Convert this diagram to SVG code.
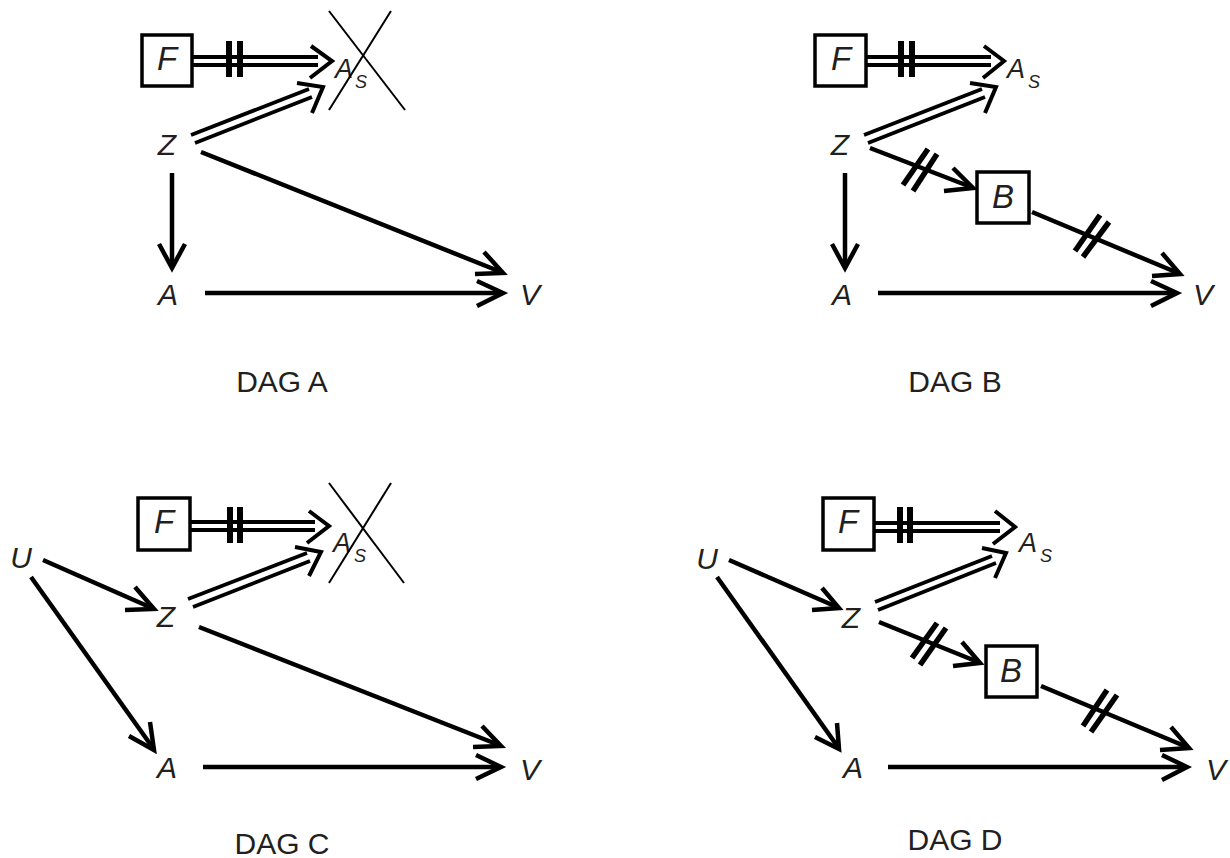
<svg xmlns="http://www.w3.org/2000/svg" width="1230" height="858" viewBox="0 0 1230 858">
<style>
.e{stroke:#000;stroke-width:4.5;fill:none;stroke-linejoin:miter;stroke-miterlimit:10}
.d{stroke:#000;stroke-width:3.8;fill:none}
.dh{stroke:#000;stroke-width:4;fill:none;stroke-linejoin:miter;stroke-miterlimit:10}
.h{stroke:#000;stroke-width:6;fill:none}
.hd{stroke:#000;stroke-width:5.5;fill:none}
.x{stroke:#000;stroke-width:2;fill:none}
.box{fill:#fff;stroke:#000;stroke-width:3.5}
.n{font-family:"Liberation Sans",Arial,sans-serif;font-style:italic;font-size:30px;fill:#231f20;text-anchor:middle}
.nb{font-family:"Liberation Sans",Arial,sans-serif;font-style:italic;font-size:33px;fill:#231f20;text-anchor:middle}
.s1{font-family:"Liberation Sans",Arial,sans-serif;font-style:italic;font-size:27px;fill:#231f20}
.s2{font-family:"Liberation Sans",Arial,sans-serif;font-style:italic;font-size:18px;fill:#231f20}
.cap{font-family:"Liberation Sans",Arial,sans-serif;font-size:30px;fill:#231f20;text-anchor:middle}
</style>
<rect width="1230" height="858" fill="#fff"/>

<!-- DAG A -->
<g id="dagA">
 <g id="dagA-connectors">
  <line class="d" x1="192" y1="57" x2="318" y2="57"/><line class="d" x1="192" y1="65" x2="318" y2="65"/>
  <polyline class="dh" points="311,46 332,61 310,78"/>
  <line class="h" x1="229" y1="41" x2="229" y2="77"/><line class="h" x1="240" y1="41" x2="240" y2="77"/>
  <line class="d" x1="191" y1="135" x2="309" y2="89"/><line class="d" x1="195" y1="143" x2="312" y2="97"/>
  <polyline class="dh" points="297,83 323,87 312,113"/>
  <line class="e" x1="172" y1="173" x2="172" y2="266"/><polyline class="e" points="159,244 172,268 185,244"/>
  <line class="e" x1="201" y1="152" x2="501" y2="272"/><polyline class="e" points="484,252 503,273 475,274"/>
  <line class="e" x1="205" y1="293" x2="501" y2="293"/><polyline class="e" points="477,281 503,293 477,306"/>
 </g>
 <g id="dagA-F"><rect class="box" x="142" y="35" width="50" height="51"/><text class="nb" x="167" y="70">F</text></g>
 <g id="dagA-As"><text class="s1" x="335" y="78">A</text><text class="s2" x="355" y="88">S</text>
  <line class="x" x1="329" y1="11" x2="405" y2="110"/><line class="x" x1="391" y1="11" x2="329" y2="110"/></g>
 <g id="dagA-Z"><text class="n" x="167" y="155">Z</text></g>
 <g id="dagA-A"><text class="n" x="168" y="305">A</text></g>
 <g id="dagA-V"><text class="n" x="530" y="305">V</text></g>
 <text class="cap" x="282" y="392">DAG A</text>
</g>

<!-- DAG B -->
<g id="dagB">
 <g id="dagB-connectors">
  <line class="d" x1="866" y1="57" x2="991" y2="57"/><line class="d" x1="866" y1="65" x2="991" y2="65"/>
  <polyline class="dh" points="984,46 1004,61 983,78"/>
  <line class="h" x1="901" y1="41" x2="901" y2="77"/><line class="h" x1="912" y1="41" x2="912" y2="77"/>
  <line class="d" x1="864" y1="135" x2="982" y2="89"/><line class="d" x1="868" y1="143" x2="985" y2="97"/>
  <polyline class="dh" points="970,83 996,87 985,113"/>
  <line class="e" x1="845" y1="173" x2="845" y2="266"/><polyline class="e" points="832,244 845,268 858,244"/>
  <line class="e" x1="878" y1="293" x2="1175" y2="293"/><polyline class="e" points="1151,281 1177,293 1151,306"/>
  <line class="e" x1="870" y1="148" x2="971" y2="187"/><polyline class="e" points="953,168 973,188 944,191"/>
  <line class="hd" x1="903" y1="185" x2="928" y2="149"/><line class="hd" x1="913" y1="191" x2="937" y2="154"/>
  <line class="e" x1="1032" y1="212" x2="1178" y2="273"/><polyline class="e" points="1162,253 1180,274 1152,276"/>
  <line class="hd" x1="1075" y1="251" x2="1100" y2="215"/><line class="hd" x1="1083" y1="257" x2="1109" y2="222"/>
 </g>
 <g id="dagB-F"><rect class="box" x="815" y="35" width="51" height="51"/><text class="nb" x="841" y="70">F</text></g>
 <g id="dagB-As"><text class="s1" x="1007" y="78">A</text><text class="s2" x="1028" y="88">S</text></g>
 <g id="dagB-Z"><text class="n" x="840" y="155">Z</text></g>
 <g id="dagB-B"><rect class="box" x="977" y="172" width="52" height="51"/><text class="nb" x="1003" y="208">B</text></g>
 <g id="dagB-A"><text class="n" x="842" y="305">A</text></g>
 <g id="dagB-V"><text class="n" x="1203" y="305">V</text></g>
 <text class="cap" x="955" y="392">DAG B</text>
</g>

<!-- DAG C -->
<g id="dagC">
 <g id="dagC-connectors">
  <line class="d" x1="191" y1="522" x2="315" y2="522"/><line class="d" x1="191" y1="530" x2="315" y2="530"/>
  <polyline class="dh" points="309,511 329,526 307,543"/>
  <line class="h" x1="230" y1="507" x2="230" y2="543"/><line class="h" x1="240" y1="507" x2="240" y2="543"/>
  <line class="d" x1="188" y1="599" x2="307" y2="553"/><line class="d" x1="193" y1="607" x2="310" y2="561"/>
  <polyline class="dh" points="295,547 321,552 309,576"/>
  <line class="e" x1="43" y1="560" x2="152" y2="608"/><polyline class="e" points="135,587 154,609 125,610"/>
  <line class="e" x1="31" y1="577" x2="153" y2="748"/><polyline class="e" points="150,722 154,750 129,736"/>
  <line class="e" x1="199" y1="627" x2="499" y2="745"/><polyline class="e" points="482,726 501,746 473,747"/>
  <line class="e" x1="203" y1="767" x2="499" y2="767"/><polyline class="e" points="476,755 501,767 476,779"/>
 </g>
 <g id="dagC-F"><rect class="box" x="138" y="498" width="52" height="52"/><text class="nb" x="164" y="533">F</text></g>
 <g id="dagC-As"><text class="s1" x="333" y="552">A</text><text class="s2" x="354" y="562">S</text>
  <line class="x" x1="329" y1="483" x2="404" y2="583"/><line class="x" x1="391" y1="483" x2="329" y2="583"/></g>
 <g id="dagC-U"><text class="n" x="21" y="568">U</text></g>
 <g id="dagC-Z"><text class="n" x="166" y="627">Z</text></g>
 <g id="dagC-A"><text class="n" x="167" y="778">A</text></g>
 <g id="dagC-V"><text class="n" x="530" y="780">V</text></g>
 <text class="cap" x="282" y="854">DAG C</text>
</g>

<!-- DAG D -->
<g id="dagD">
 <g id="dagD-connectors">
  <line class="d" x1="874" y1="523" x2="1000" y2="523"/><line class="d" x1="874" y1="531" x2="1000" y2="531"/>
  <polyline class="dh" points="995,511 1015,527 993,544"/>
  <line class="h" x1="900" y1="507" x2="900" y2="543"/><line class="h" x1="910" y1="507" x2="910" y2="543"/>
  <line class="d" x1="875" y1="602" x2="992" y2="556"/><line class="d" x1="878" y1="610" x2="996" y2="563"/>
  <polyline class="dh" points="982,548 1006,553 995,578"/>
  <line class="e" x1="729" y1="560" x2="837" y2="607"/><polyline class="e" points="822,588 839,608 812,610"/>
  <line class="e" x1="717" y1="577" x2="838" y2="747"/><polyline class="e" points="837,723 839,749 815,737"/>
  <line class="e" x1="879" y1="622" x2="978" y2="662"/><polyline class="e" points="962,642 980,663 953,666"/>
  <line class="hd" x1="912" y1="658" x2="937" y2="623"/><line class="hd" x1="920" y1="665" x2="946" y2="628"/>
  <line class="e" x1="1041" y1="686" x2="1187" y2="747"/><polyline class="e" points="1171,727 1189,748 1160,750"/>
  <line class="hd" x1="1083" y1="726" x2="1107" y2="690"/><line class="hd" x1="1091" y1="732" x2="1117" y2="695"/>
  <line class="e" x1="888" y1="767" x2="1185" y2="767"/><polyline class="e" points="1162,755 1187,767 1162,780"/>
 </g>
 <g id="dagD-F"><rect class="box" x="823" y="498" width="51" height="52"/><text class="nb" x="848" y="533">F</text></g>
 <g id="dagD-As"><text class="s1" x="1019" y="552">A</text><text class="s2" x="1040" y="562">S</text></g>
 <g id="dagD-U"><text class="n" x="707" y="569">U</text></g>
 <g id="dagD-Z"><text class="n" x="851" y="628">Z</text></g>
 <g id="dagD-B"><rect class="box" x="986" y="646" width="51" height="51"/><text class="nb" x="1011" y="682">B</text></g>
 <g id="dagD-A"><text class="n" x="853" y="778">A</text></g>
 <g id="dagD-V"><text class="n" x="1216" y="780">V</text></g>
 <text class="cap" x="955" y="850">DAG D</text>
</g>
</svg>
